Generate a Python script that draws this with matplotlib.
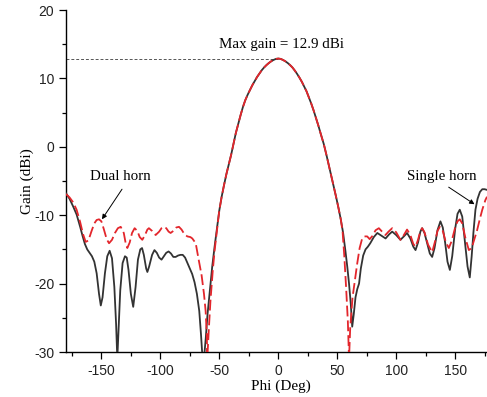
import matplotlib
matplotlib.use("Agg")
import matplotlib.pyplot as plt
from matplotlib.ticker import MultipleLocator

plt.rcParams['axes.unicode_minus'] = False

# ---- Data ----
single_phi = [-180, -177, -174, -171, -168, -166, -164, -162, -160, -158, -156, -154, -152,
              -150.5, -149, -147, -145, -143, -141, -139, -137.5, -136.5, -135.5, -134, -132,
              -130, -128.5, -127, -125, -123, -121, -119, -117, -115.5, -114, -112, -111,
              -109.5, -107, -105, -103, -101, -99, -97, -95, -93, -91, -89, -87, -85, -83,
              -81, -79, -77, -75, -73, -71, -69, -67, -65.5, -64.2,
              -63, -61.5, -60, -58, -56, -54, -52, -50, -48, -46, -44, -42, -40, -38, -36,
              -34, -32, -30, -28, -26, -24, -22, -20, -18, -16, -14, -12, -10, -8, -6, -4,
              -2, 0, 2, 4, 6, 8, 10, 12, 14, 16, 18, 20, 22, 24, 26, 28, 30, 32, 34, 36,
              38.6, 41, 43, 45, 47, 49, 51, 53, 55, 57, 58.5, 60, 61.5, 62.7, 64, 65.5, 67,
              68.5, 70, 72, 74, 76, 78, 81, 84, 87.5, 91, 94, 96.6, 100, 103.6, 106.5,
              109.2, 112, 114.5, 116.4, 118.5, 120.5, 122, 124, 126.5, 128.5, 130.5, 132.5,
              135, 137.5, 139.5, 141.5, 143.5, 145.5, 147.5, 150, 152, 153.9, 156, 158,
              160.5, 162.4, 164, 165.5, 167.2, 169, 171, 173, 175, 177]
single_gain = [-6.8, -7.6, -8.7, -9.9, -11.7, -13.0, -14.2, -15.0, -15.5, -16.0, -16.8, -18.5, -21.5,
               -23.2, -22.0, -18.5, -16.0, -15.2, -16.3, -20.5, -26.0, -31.0, -27.0, -21.0, -17.0,
               -16.0, -16.2, -18.0, -21.5, -23.4, -20.5, -16.5, -15.0, -14.8, -15.8, -17.8, -18.3,
               -17.5, -15.8, -15.1, -15.5, -16.2, -16.5, -16.0, -15.5, -15.3, -15.6, -16.1, -16.1,
               -15.9, -15.8, -15.8, -16.2, -17.0, -17.8, -18.6, -19.8, -21.5, -24.0, -27.5, -31.0,
               -31.0, -28.0, -24.5, -21.0, -17.5, -14.6, -11.9, -9.3, -7.3, -5.6, -4.0, -2.6, -1.2,
               0.4, 2.0, 3.3, 4.6, 5.8, 6.8, 7.6, 8.3, 9.0, 9.6, 10.2, 10.7, 11.2, 11.6, 11.95,
               12.25, 12.5, 12.7, 12.85, 12.9, 12.85, 12.7, 12.5, 12.25, 11.95, 11.6, 11.15,
               10.65, 10.1, 9.5, 8.8, 8.1, 7.2, 6.3, 5.3, 4.2, 3.1, 1.9, 0.4, -1.3, -2.8, -4.3,
               -5.8, -7.3, -8.9, -10.6, -12.6, -15.3, -17.5, -20.0, -23.0, -26.3, -24.5, -22.0,
               -20.8, -20.0, -17.8, -15.9, -15.0, -14.6, -14.1, -13.2, -12.6, -13.0, -13.4, -12.8,
               -12.4, -12.9, -13.6, -13.1, -12.6, -13.4, -14.6, -15.1, -14.0, -12.4, -11.9, -12.6,
               -14.3, -15.6, -16.1, -14.8, -12.2, -10.9, -11.8, -14.0, -16.8, -18.0, -16.0, -12.0,
               -9.8, -9.2, -10.2, -13.5, -17.5, -19.1, -16.0, -12.5, -9.2, -7.6, -6.6, -6.2, -6.2,
               -6.3]

dual_phi = [-180, -177, -174, -171, -168, -165.5, -163.3, -161, -158.5, -156, -154, -152, -150,
            -148, -145.5, -143.5, -141, -138.5, -136, -133.6, -131, -129.5, -128, -126, -124,
            -121.8, -119.5, -117.5, -115.3, -113, -111, -109.7, -107, -104, -101, -99, -97, -95,
            -93, -91.3, -89, -86.5, -84.2, -82, -79.5, -77.1, -74.5, -72.9, -70, -67.5, -65,
            -63, -61.6, -60.6, -60.2, -59, -57.5, -55.5, -54, -52, -50, -48, -46, -44, -42,
            -40, -38, -36, -34, -32, -30, -28, -26, -24, -22, -20, -18, -16, -14, -12, -10, -8,
            -6, -4, -2, 0, 2, 4, 6, 8, 10, 12, 14, 16, 18, 20, 22, 24, 26, 28, 30, 32, 34, 36,
            38.6, 41, 43, 45, 47, 49, 51, 53, 54.5, 56, 57.5, 59, 60, 61, 63, 65, 67, 69, 71,
            73, 75.4, 77.5, 80, 82.5, 85.3, 88, 90.9, 93.5, 96.6, 100, 103.6, 106.5, 109.2, 112,
            114.5, 116.4, 118.5, 120.5, 122, 124, 127, 130.5, 133, 135, 137, 139.5, 142, 144.6,
            147, 150, 152, 153.9, 156, 158.5, 161.6, 164, 166.5, 168.6, 171, 173, 175.6, 177]
dual_gain = [-6.9, -7.4, -8.1, -9.2, -11.0, -12.8, -13.9, -13.7, -12.4, -11.2, -10.7, -10.6, -10.9,
             -12.0, -13.5, -14.1, -13.6, -12.6, -11.9, -11.7, -12.6, -14.0, -14.8, -14.0, -12.6,
             -11.9, -12.3, -13.2, -13.6, -12.9, -12.1, -11.9, -12.3, -12.9, -12.4, -11.9, -11.7,
             -11.9, -12.4, -12.6, -12.3, -11.8, -11.7, -12.1, -12.8, -13.1, -13.2, -13.4, -14.1,
             -16.5, -18.8, -21.5, -24.0, -27.5, -31.0, -27.0, -22.5, -18.0, -15.2, -12.2, -9.3,
             -7.3, -5.6, -4.0, -2.6, -1.2, 0.4, 2.0, 3.3, 4.6, 5.8, 6.8, 7.6, 8.3, 9.0, 9.6, 10.2,
             10.7, 11.2, 11.6, 11.95, 12.25, 12.5, 12.7, 12.85, 12.9, 12.85, 12.7, 12.5, 12.25,
             11.95, 11.6, 11.15, 10.65, 10.1, 9.5, 8.8, 8.1, 7.2, 6.3, 5.3, 4.2, 3.1, 1.9, 0.4,
             -1.3, -2.8, -4.3, -5.8, -7.3, -8.9, -10.6, -12.3, -16.0, -20.5, -25.5, -31.0, -26.5,
             -22.0, -19.5, -17.0, -14.8, -13.5, -13.1, -13.1, -13.5, -13.0, -12.2, -11.9, -12.4,
             -12.9, -12.4, -11.9, -12.5, -13.6, -12.9, -12.1, -12.9, -14.2, -14.6, -13.6, -12.3,
             -11.9, -12.5, -14.3, -15.4, -13.8, -12.3, -11.7, -12.3, -13.9, -14.8, -13.8, -11.8,
             -10.9, -10.6, -11.2, -13.2, -15.1, -14.8, -13.4, -12.2, -10.5, -9.2, -7.8, -7.3]

max_gain = 12.9
x_ticks = [-150, -100, -50, 0, 50, 100, 150]
y_ticks = [-30, -20, -10, 0, 10, 20]

# ---- Figure ----
W, H = 487, 397
fig = plt.figure(figsize=(W / 100, H / 100), dpi=100)
left, right, top, bottom = 66, 487, 10, 352
ax = fig.add_axes([left / W, 1 - bottom / H, (right - left) / W, (bottom - top) / H])

ax.plot(single_phi, single_gain, color='#333333', lw=1.3, solid_joinstyle='round', zorder=3)
ax.plot(dual_phi, dual_gain, color='#e3262c', lw=1.3, dashes=(6, 2.2), zorder=4)

ax.set_xlim(-180, 177)
ax.set_ylim(-30, 20)

ax.hlines(max_gain, -180, 0, colors='#555555', linestyles=(0, (3, 2)), lw=0.7, zorder=2)

serif = ['Liberation Serif', 'DejaVu Serif']
sans = ['Liberation Sans', 'DejaVu Sans']

ax.text(3, 14.9, f"Max gain = {max_gain} dBi", ha='center', va='center',
        fontsize=10.8, family=serif)

arrow_kw = dict(arrowstyle='-|>', color='black', lw=0.7, mutation_scale=7,
                shrinkA=0, shrinkB=0)
ax.text(-133.5, -4.4, "Dual horn", ha='center', va='center', fontsize=10.8, family=serif)
ax.annotate("", xy=(-149.5, -10.6), xytext=(-132.5, -6.2), arrowprops=arrow_kw)
ax.text(139, -4.4, "Single horn", ha='center', va='center', fontsize=10.8, family=serif)
ax.annotate("", xy=(166.4, -8.4), xytext=(144.5, -5.9), arrowprops=arrow_kw)

ax.set_xticks(x_ticks)
ax.set_yticks(y_ticks)
ax.xaxis.set_minor_locator(MultipleLocator(25))
ax.yaxis.set_minor_locator(MultipleLocator(5))
ax.tick_params(which='major', direction='out', length=5, width=0.9, labelsize=10)
ax.tick_params(which='minor', direction='out', length=3, width=0.9)
for lab in ax.get_xticklabels() + ax.get_yticklabels():
    lab.set_family(sans)
    lab.set_color('#222222')

for s in ['top', 'right']:
    ax.spines[s].set_visible(False)
for s in ['left', 'bottom']:
    ax.spines[s].set_linewidth(1.0)

ax.set_xlabel("Phi (Deg)", fontsize=11, family=serif)
ax.set_ylabel("Gain (dBi)", fontsize=11, family=serif)
ax.xaxis.label.set_va('center')
ax.yaxis.label.set_va('center')
ax.xaxis.set_label_coords(0.51, -0.1)
ax.yaxis.set_label_coords(-0.092, 0.5)

fig.savefig("out.png", dpi=100)
